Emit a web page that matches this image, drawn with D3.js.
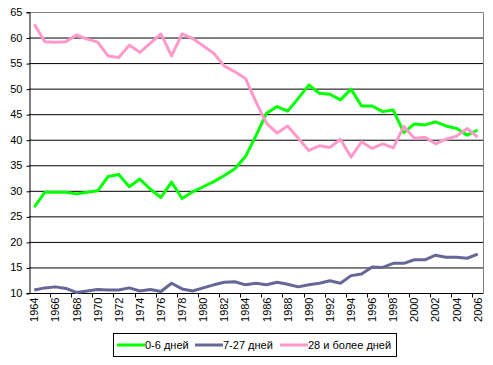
<!DOCTYPE html>
<html><head><meta charset="utf-8">
<script src="https://cdn.jsdelivr.net/npm/d3@7"></script>
<style>body{margin:0;background:#fff}svg{display:block}text{font-family:"Liberation Sans",Arial,sans-serif}</style>
</head><body><svg id="c" width="493" height="365"></svg>
<script>
const years = d3.range(1964, 2007);
const seriesNames = ["0-6 дней", "7-27 дней", "28 и более дней"];
const early = [26.8,29.7,29.7,29.7,29.4,29.7,30.0,32.8,33.2,30.8,32.3,30.3,28.7,31.7,28.5,29.8,30.8,31.8,33.0,34.3,36.7,40.8,45.2,46.5,45.6,48.1,50.7,49.1,48.9,47.8,49.9,46.6,46.6,45.5,45.8,41.4,43.1,42.9,43.5,42.7,42.2,40.9,41.9];
const mid = [10.6,11.0,11.2,10.9,10.1,10.4,10.7,10.6,10.6,11.0,10.4,10.7,10.3,11.9,10.8,10.4,11.0,11.6,12.1,12.2,11.6,11.9,11.6,12.1,11.7,11.2,11.6,11.9,12.4,11.9,13.4,13.7,15.1,15.0,15.8,15.8,16.5,16.5,17.4,17.0,17.0,16.8,17.6];
const late = [62.6,59.2,59.1,59.2,60.5,59.7,59.1,56.4,56.1,58.5,57.1,58.9,60.7,56.4,60.7,59.8,58.4,56.9,54.4,53.3,52.0,47.4,43.2,41.3,42.7,40.3,37.9,38.8,38.5,40.1,36.6,39.6,38.3,39.2,38.4,42.6,40.3,40.5,39.2,40.1,40.7,42.2,40.5];
const colors = ["#00ff00", "#666699", "#ff99cc"];
const yTicks = d3.range(10, 66, 5);

const svg = d3.select("#c");
const L = 29, R = 483, T = 12, B = 293;
const x = d3.scaleBand().domain(years).range([L, R]);
const y = d3.scaleLinear().domain([10, 65]).range([B, T]);

// gridlines
svg.append("g").selectAll("line").data(yTicks.filter(v => v < 65)).join("line")
  .attr("x1", L).attr("x2", R).attr("y1", d => y(d) + 0.5).attr("y2", d => y(d) + 0.5)
  .attr("stroke", "#000").attr("stroke-width", 1);
// plot border top/right
svg.append("path").attr("d", `M${L},${T + 0.5}H${R + 0.5}V${B}`).attr("fill", "none").attr("stroke", "#808080").attr("stroke-width", 1);

// y axis
const ya = svg.append("g").attr("transform", `translate(${L + 0.5},0)`)
  .call(d3.axisLeft(y).tickValues(yTicks).tickSize(3).tickPadding(4).tickFormat(d3.format("d")));
ya.select(".domain").attr("stroke", "#000");
ya.selectAll("line").attr("transform", "translate(0,0.5)");
ya.selectAll("text").attr("font-size", 11).attr("fill", "#000").attr("font-family", "Liberation Sans, Arial");

// x axis
const xa = svg.append("g").attr("transform", `translate(0,${B + 0.5})`);
xa.append("line").attr("x1", L).attr("x2", R + 0.5).attr("stroke", "#000");
const tickIdx = d3.range(2, 43, 2);
xa.selectAll("line.t").data(tickIdx).join("line").attr("class", "t")
  .attr("x1", i => Math.round(x(years[i])) + 0.5).attr("x2", i => Math.round(x(years[i])) + 0.5)
  .attr("y1", 0).attr("y2", 4).attr("stroke", "#000");
xa.selectAll("text").data(years.filter((d, i) => i % 2 === 0)).join("text")
  .attr("transform", d => `translate(${x(d) + x.bandwidth() / 2 + 4},4) rotate(-90)`)
  .attr("text-anchor", "end").attr("font-size", 11).attr("fill", "#000").text(d => d);

// lines
const data = [early, mid, late];
const line = d3.line().x((d, i) => x(years[i]) + x.bandwidth() / 2).y(d => y(d));
svg.append("g").selectAll("path").data(data).join("path")
  .attr("d", line).attr("fill", "none").attr("stroke", (d, i) => colors[i])
  .attr("stroke-width", 3).attr("stroke-linejoin", "round");
// pink on top order matches reference (pink drawn last)

// legend
const lg = svg.append("g");
lg.append("rect").attr("x", 113.5).attr("y", 333.5).attr("width", 283).attr("height", 23)
  .attr("fill", "#fff").attr("stroke", "#000");
const lx = [117, 195, 280];
seriesNames.forEach((n, i) => {
  lg.append("line").attr("x1", lx[i]).attr("x2", lx[i] + 28).attr("y1", 345).attr("y2", 345)
    .attr("stroke", colors[i]).attr("stroke-width", 3);
  lg.append("text").attr("x", lx[i] + 28).attr("y", 349).attr("font-size", 11).attr("fill", "#000").text(n);
});
</script></body></html>
